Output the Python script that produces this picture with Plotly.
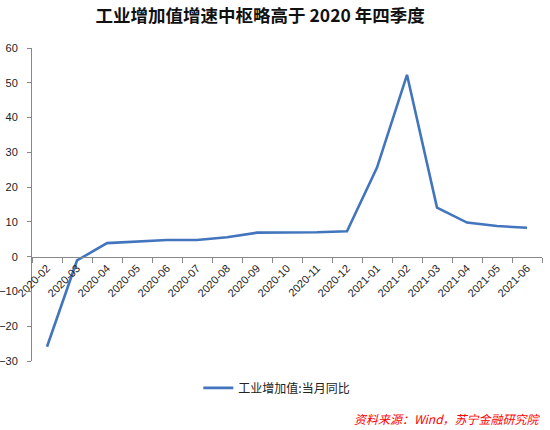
import plotly.graph_objects as go

months = ["2020-02", "2020-03", "2020-04", "2020-05", "2020-06", "2020-07", "2020-08",
          "2020-09", "2020-10", "2020-11", "2020-12", "2021-01", "2021-02", "2021-03",
          "2021-04", "2021-05", "2021-06"]
yoy = [-25.9, -1.1, 3.9, 4.4, 4.8, 4.8, 5.6, 6.9, 6.9, 7.0, 7.3, 25.6, 52.3, 14.1, 9.8, 8.8, 8.3]

title_text = "工业增加值增速中枢略高于 2020 年四季度"
series_name = "工业增加值:当月同比"
source_text = "资料来源：Wind，苏宁金融研究院"
y_ticks = [-30, -20, -10, 0, 10, 20, 30, 40, 50, 60]

fig = go.Figure()
fig.add_trace(go.Scatter(x=months, y=yoy, mode="lines", name=series_name,
                         line=dict(color="#4275BD", width=2.6)))

fig.update_layout(
    width=550, height=430,
    margin=dict(l=32, r=8, t=48, b=69),
    paper_bgcolor="white", plot_bgcolor="white",
    font=dict(family="Liberation Sans, Arial, sans-serif", color="#222", size=11),
    title=dict(text="<b>" + title_text + "</b>", x=0.473, xanchor="center", y=0.962, yanchor="middle",
               font=dict(family="Noto Sans CJK SC", size=17.5, color="#111")),
    showlegend=True,
    legend=dict(orientation="h", x=0.48, xanchor="center", y=-0.086, yanchor="middle",
                font=dict(family="Noto Sans CJK SC", size=12, color="#222"),
                bgcolor="rgba(0,0,0,0)"),
    xaxis=dict(type="category", range=[-0.5, len(months) - 0.5], anchor="free", position=1/3,
               showline=True, linecolor="#888", automargin=False,
               linewidth=1, ticks="outside", ticklen=5, tickcolor="#888", tickson="boundaries",
               tickangle=-45, showgrid=False, zeroline=False,
               tickfont=dict(size=11, color="#222")),
    yaxis=dict(range=[-30, 60], tickvals=y_ticks, showline=True, linecolor="#888", linewidth=1,
               automargin=False,
               ticks="outside", ticklen=4, tickcolor="#888", showgrid=False, zeroline=False,
               ticklabelstandoff=7, tickfont=dict(size=11, color="#222")),
)

fig.add_annotation(text="<i>" + source_text + "</i>", xref="paper", yref="paper", x=1.002, y=-0.185,
                   xanchor="right", yanchor="middle", showarrow=False,
                   font=dict(family="Noto Sans CJK SC", size=12, color="#FF0000"))

fig.write_html("out.html", config={"displayModeBar": False},
               post_script="document.body.style.margin='0';")
